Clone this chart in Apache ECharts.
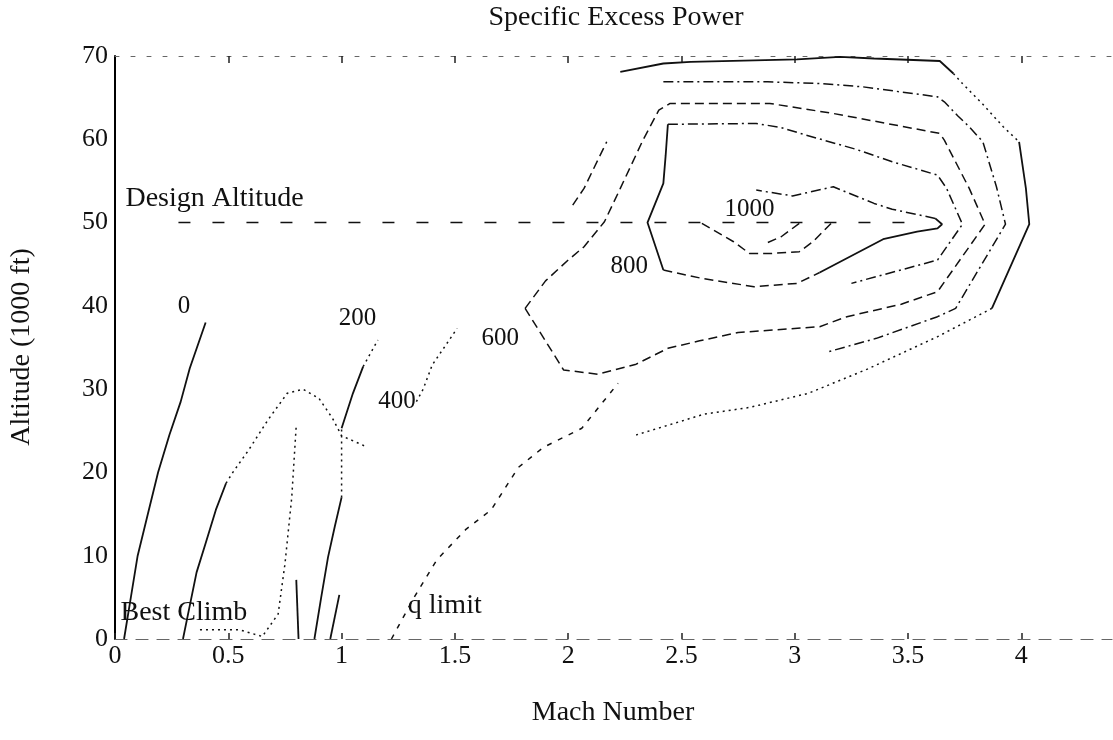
<!DOCTYPE html>
<html>
<head>
<meta charset="utf-8">
<script src="https://cdn.jsdelivr.net/npm/echarts@6/dist/echarts.min.js"></script>
<style>
  html, body { margin: 0; padding: 0; background: #fff; }
  #chart { width: 1113px; height: 740px; }
</style>
</head>
<body>
<div id="chart"></div>
<script>
// ---- axis ticks -------------------------------------------------------
const machTicks = [0, 0.5, 1, 1.5, 2, 2.5, 3, 3.5, 4];
const altTicks = [0, 10, 20, 30, 40, 50, 60, 70];

// ---- Ps contour traces: [Mach, altitude in 1000 ft] --------------------
// subsonic / transonic contours
const ps0 = [[0.04,0],[0.07,5],[0.10,10],[0.145,15],[0.19,20],[0.24,24.5],[0.29,28.5],[0.33,32.5],[0.40,38]];
const ps100 = [[0.30,0],[0.33,4],[0.36,8],[0.40,11.5],[0.445,15.5],[0.49,18.7]];
const ps100Upper = [[0.49,18.7],[0.52,20],[0.59,22.7],[0.675,26.3],[0.76,29.5],[0.83,30],[0.90,28.9],[0.96,26.5],[1.0,24.4],[1.1,23.2]];
const ps100Dip = [[0.80,7.1],[0.81,0]];
const ps200Low = [[0.88,0],[0.91,5],[0.94,9.8],[0.97,13.5],[1.0,17]];
const ps200Gap = [[1.0,17],[1.0,25.3]];
const ps200High = [[1.0,25.3],[1.05,29.5],[1.095,32.7]];
const ps200Top = [[1.095,32.7],[1.16,35.9]];
const ps300 = [[0.95,0],[0.99,5.3]];
const ps400Left = [[1.33,28.5],[1.36,30],[1.40,32.9],[1.46,35.3],[1.51,37.3]];

// supersonic contours around the design point
const psOuterLeft = [[2.02,52.1],[2.07,54.1],[2.17,59.7]];
const psOuterTop = [[2.23,68.1],[2.42,69.1],[2.54,69.3],[3.01,69.6],[3.2,69.9],[3.35,69.7],[3.64,69.4],[3.70,67.9]];
const psOuterShoulder = [[3.70,67.9],[3.74,66.7],[3.83,64.2],[3.92,61.5],[3.99,59.7]];
const psOuterRight = [[3.99,59.7],[4.02,54.1],[4.035,49.8],[3.87,39.7]];
const psOuterBottom = [[3.87,39.7],[3.63,36.3],[3.32,32.4],[3.06,29.5],[2.8,27.8],[2.6,27],[2.3,24.5]];
const ps500 = [[2.42,66.9],[2.88,66.9],[3.11,66.7],[3.30,66.3],[3.63,65.1],[3.66,64.5],[3.72,62.8],[3.77,61.5],[3.83,59.7],[3.89,54.3],[3.93,49.8],[3.71,39.7],[3.63,38.7],[3.36,36.1],[3.15,34.5]];
const ps600 = [[1.81,39.7],[1.9,43],[2.0,45.5],[2.07,47.1],[2.16,50.1],[2.23,54.1],[2.33,59.9],[2.4,63.5],[2.45,64.3],[2.89,64.3],[3.17,63.1],[3.64,60.7],[3.66,59.9],[3.77,54.1],[3.84,49.8],[3.63,41.7],[3.47,40.2],[3.23,38.7],[3.11,37.5],[2.75,36.8],[2.58,35.8],[2.44,34.9],[2.3,33],[2.13,31.8],[1.98,32.3],[1.81,39.7]];
const ps700 = [[2.44,61.8],[2.83,61.9],[2.94,61.4],[3.05,60.5],[3.27,58.8],[3.43,57.3],[3.63,55.7],[3.67,54.1],[3.74,49.8],[3.63,45.5],[3.25,42.7]];
const ps800Left = [[2.44,61.8],[2.43,58],[2.42,54.7],[2.35,50],[2.42,44.3]];
const ps800Bottom = [[2.42,44.3],[2.59,43.3],[2.82,42.3],[3.01,42.7],[3.11,44.0]];
const ps800Nose = [[3.11,44.0],[3.39,48],[3.54,48.9],[3.63,49.3],[3.65,49.8],[3.62,50.5]];
const ps800Top = [[3.62,50.5],[3.43,51.6],[3.35,52.3],[3.17,54.3],[2.99,53.2],[2.83,53.9]];
const ps900 = [[2.59,49.9],[2.73,47.7],[2.8,46.3],[2.9,46.3],[3.02,46.5],[3.08,47.7],[3.16,49.9]];
const ps1000 = [[3.02,49.9],[2.94,48.3],[2.88,47.6]];

// flight-envelope references
const designAltitude = [[0.28,50],[3.55,50]];
const bestClimb = [[0.375,1.1],[0.55,1.1],[0.65,0.3],[0.72,3],[0.75,9],[0.78,17],[0.80,25.7]];
const qLimit = [[1.22,0],[1.27,2.5],[1.32,5],[1.42,9.5],[1.55,13.2],[1.66,15.5],[1.78,20.6],[1.89,23],[2.06,25.3],[2.22,30.7]];

// contour level labels: [Mach, altitude, level]
const levelLabels = [[0.305,39.9,0],[1.07,38.5,200],[1.245,28.5,400],[1.70,36.1,600],[2.27,44.7,800],[2.80,51.6,1000]];
// annotations: [Mach, altitude, text]
const notes = [[0.044,52.9,'Design Altitude'],[0.022,3.2,'Best Climb'],[1.29,4.0,'q limit']];

// ---- styling ----------------------------------------------------------
const INK = '#111';
const DASH = {
  solid: 'solid',
  dashed: [9, 5],
  dashdot: [10, 4, 2, 4],
  dotted: [2, 4],
  sparse: [12, 22],
  faint: [5, 7]
};
const traces = [
  [ps0, 'solid'], [ps100, 'solid'], [ps100Upper, 'dotted'], [ps100Dip, 'solid'],
  [ps200Low, 'solid'], [ps200Gap, 'dotted'], [ps200High, 'solid'], [ps200Top, 'dotted'],
  [ps300, 'solid'], [ps400Left, 'dotted'],
  [psOuterLeft, 'dashed'], [psOuterTop, 'solid'], [psOuterShoulder, 'dotted'],
  [psOuterRight, 'solid'], [psOuterBottom, 'dotted'],
  [ps500, 'dashdot'], [ps600, 'dashed'], [ps700, 'dashdot'],
  [ps800Left, 'solid'], [ps800Bottom, 'dashed'], [ps800Nose, 'solid'], [ps800Top, 'dashdot'],
  [ps900, 'dashed'], [ps1000, 'dashed'],
  [designAltitude, 'sparse'], [bestClimb, 'dotted'], [qLimit, 'faint']
];

const FONT = 'Liberation Serif';

const series = traces.map(([pts, style]) => ({
  type: 'line',
  data: pts,
  symbol: 'none',
  silent: true,
  lineStyle: { color: INK, width: style === 'solid' ? 1.8 : 1.5, type: DASH[style] },
  z: 3
}));

series.push({
  type: 'scatter',
  data: levelLabels,
  symbolSize: 1,
  itemStyle: { color: 'rgba(0,0,0,0)', opacity: 1 },
  silent: true,
  label: {
    show: true, position: 'inside', formatter: p => String(p.value[2]),
    fontFamily: FONT, fontSize: 25, color: INK, opacity: 1,
    textBorderWidth: 0
  },
  z: 5
});

series.push({
  type: 'scatter',
  data: notes,
  symbolSize: 1,
  itemStyle: { color: 'rgba(0,0,0,0)', opacity: 1 },
  silent: true,
  label: {
    show: true, position: 'right', distance: 0, formatter: p => p.value[2],
    fontFamily: FONT, fontSize: 28, color: INK, opacity: 1,
    textBorderWidth: 0
  },
  z: 5
});

const chart = echarts.init(document.getElementById('chart'), null, { renderer: 'canvas' });
chart.setOption({
  animation: false,
  backgroundColor: '#fff',
  grid: { left: 115, right: 1, top: 56, bottom: 101, containLabel: false },
  xAxis: [{
    type: 'value', min: 0, max: 4.4, position: 'bottom',
    axisLine: { show: true, onZero: false, lineStyle: { color: '#666', width: 1.2, type: [12, 9] } },
    axisTick: { show: true, inside: true, length: 6, customValues: machTicks, lineStyle: { color: '#222', width: 1.5 } },
    axisLabel: { customValues: machTicks, margin: 4, fontFamily: FONT, fontSize: 26, color: INK },
    splitLine: { show: false }
  }, {
    type: 'value', min: 0, max: 4.4, position: 'top',
    axisLine: { show: true, onZero: false, lineStyle: { color: '#666', width: 1, type: [4, 12] } },
    axisTick: { show: true, inside: true, length: 7, customValues: machTicks.slice(1), lineStyle: { color: '#222', width: 1.5 } },
    axisLabel: { show: false },
    splitLine: { show: false }
  }],
  yAxis: {
    type: 'value', min: 0, max: 70, interval: 10,
    axisLine: { show: true, onZero: false, lineStyle: { color: '#000', width: 2 } },
    axisTick: { show: false },
    axisLabel: { margin: 7, fontFamily: FONT, fontSize: 26, color: INK,
                 customValues: altTicks },
    splitLine: { show: false }
  },
  graphic: [
    { type: 'text', style: { text: 'Specific Excess Power', x: 616, y: 18, align: 'center', verticalAlign: 'middle', font: '28px "Liberation Serif"', fill: INK } },
    { type: 'text', style: { text: 'Mach Number', x: 613, y: 713, align: 'center', verticalAlign: 'middle', font: '28px "Liberation Serif"', fill: INK } },
    { type: 'text', x: 22, y: 347, rotation: Math.PI / 2, style: { text: 'Altitude (1000 ft)', x: 0, y: 0, align: 'center', verticalAlign: 'middle', font: '28px "Liberation Serif"', fill: INK } }
  ],
  series: series
});
</script>
</body>
</html>
